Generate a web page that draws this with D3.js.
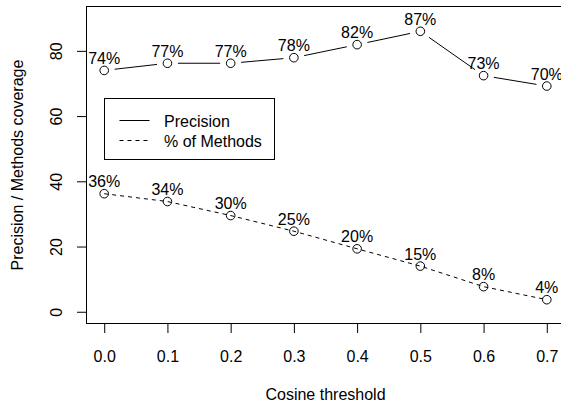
<!DOCTYPE html>
<html><head><meta charset="utf-8">
<script src="https://cdn.jsdelivr.net/npm/d3@7"></script>
<style>body{margin:0;background:#fff}svg{display:block}text{font-family:"Liberation Sans",Arial,Helvetica,sans-serif;fill:#000}</style>
</head><body>
<script>
const thresholds = [0.0, 0.1, 0.2, 0.3, 0.4, 0.5, 0.6, 0.7];
const precision = [74.0, 76.2, 76.2, 77.9, 81.9, 86.0, 72.4, 69.2];
const precisionLabels = ["74%", "77%", "77%", "78%", "82%", "87%", "73%", "70%"];
const methods = [36.2, 33.8, 29.5, 24.7, 19.3, 14.0, 7.7, 3.7];
const methodsLabels = ["36%", "34%", "30%", "25%", "20%", "15%", "8%", "4%"];
const xTicks = [0.0, 0.1, 0.2, 0.3, 0.4, 0.5, 0.6, 0.7];
const yTicks = [0, 20, 40, 60, 80];
const legendItems = ["Precision", "% of Methods"];

const W = 561, H = 406;
const L = 86.5, R = 564.5, T = 6.5, B = 323.5;
const fs = 16;

const svg = d3.select("body").append("svg").attr("width", W).attr("height", H);
const x = d3.scaleLinear().domain([-0.028, 0.728]).range([L, R]);
const y = d3.scaleLinear().domain([-3.6, 93.6]).range([B, T]);

// box
svg.append("rect").attr("x", L).attr("y", T).attr("width", R - L).attr("height", B - T)
  .attr("fill", "none").attr("stroke", "#000").attr("stroke-width", 1);

// x axis
const gx = svg.append("g").attr("transform", `translate(0,${B})`)
  .call(d3.axisBottom(x).tickValues(xTicks).tickFormat(d3.format(".1f")).tickSize(9.5));
gx.select(".domain").remove();
gx.selectAll("line").attr("stroke", "#000");
gx.selectAll("text").attr("y", 38).attr("dy", null).attr("font-size", fs).attr("font-family", null);

// y axis
const gy = svg.append("g").attr("transform", `translate(${L},0)`)
  .call(d3.axisLeft(y).tickValues(yTicks).tickSize(9.5));
gy.select(".domain").remove();
gy.selectAll("line").attr("stroke", "#000");
gy.selectAll(".tick text")
  .attr("x", null).attr("dy", null).attr("font-size", fs).attr("font-family", null)
  .attr("text-anchor", "middle")
  .attr("transform", "translate(-24.5,0) rotate(-90)");

// axis titles
svg.append("text").attr("x", (L + R) / 2).attr("y", 400).attr("text-anchor", "middle")
  .attr("font-size", fs).text("Cosine threshold");
svg.append("text").attr("transform", `translate(23,${(T + B) / 2}) rotate(-90)`)
  .attr("text-anchor", "middle").attr("font-size", fs).text("Precision / Methods coverage");

const g = svg.append("g");

// precision: type "b" (gaps near points)
const gap = 10.5;
const pPts = thresholds.map((t, i) => [x(t), y(precision[i])]);
for (let i = 0; i < pPts.length - 1; i++) {
  const [x1, y1] = pPts[i], [x2, y2] = pPts[i + 1];
  const dx = x2 - x1, dy = y2 - y1, len = Math.hypot(dx, dy);
  if (len <= 2 * gap) continue;
  const ux = dx / len, uy = dy / len;
  g.append("line").attr("x1", x1 + ux * gap).attr("y1", y1 + uy * gap)
    .attr("x2", x2 - ux * gap).attr("y2", y2 - uy * gap)
    .attr("stroke", "#000").attr("stroke-width", 1);
}
// methods: type "o" dashed
g.append("path").datum(thresholds.map((t, i) => [t, methods[i]]))
  .attr("d", d3.line().x(d => x(d[0])).y(d => y(d[1])))
  .attr("fill", "none").attr("stroke", "#000").attr("stroke-width", 1).attr("stroke-dasharray", "4,4");

// points
function pts(vals) {
  g.selectAll(null).data(thresholds).enter().append("circle")
    .attr("cx", d => x(d)).attr("cy", (d, i) => y(vals[i])).attr("r", 4.3)
    .attr("fill", "none").attr("stroke", "#000").attr("stroke-width", 1);
}
pts(precision); pts(methods);

// labels
function labels(vals, labs) {
  g.selectAll(null).data(thresholds).enter().append("text")
    .attr("x", d => x(d)).attr("y", (d, i) => y(vals[i]) - 6.5)
    .attr("text-anchor", "middle").attr("font-size", fs).text((d, i) => labs[i]);
}
labels(precision, precisionLabels); labels(methods, methodsLabels);

// legend
const lg = svg.append("g");
lg.append("rect").attr("x", 104.5).attr("y", 98.5).attr("width", 170).attr("height", 61)
  .attr("fill", "#fff").attr("stroke", "#000").attr("stroke-width", 1);
legendItems.forEach((name, i) => {
  const ly = 120.5 + i * 20;
  lg.append("line").attr("x1", 119.5).attr("x2", 149.5).attr("y1", ly).attr("y2", ly)
    .attr("stroke", "#000").attr("stroke-width", 1)
    .attr("stroke-dasharray", i === 1 ? "4,4" : null);
  lg.append("text").attr("x", 164).attr("y", ly + 6).attr("font-size", fs).text(name);
});
</script>
</body></html>
